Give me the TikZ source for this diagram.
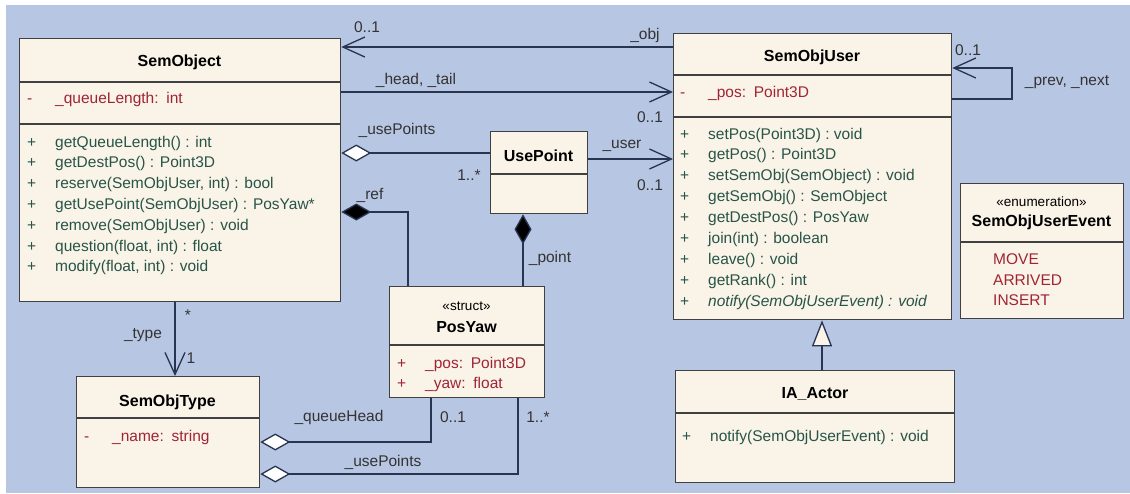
\documentclass[tikz,border=0pt]{standalone}
\usepackage{fontspec}
\setmainfont{Liberation Sans}
\usetikzlibrary{arrows.meta}
\definecolor{bgblue}{RGB}{183,198,226}
\definecolor{boxfill}{RGB}{249,243,232}
\definecolor{attrred}{RGB}{160,36,52}
\definecolor{methgreen}{RGB}{40,84,72}
\definecolor{linknavy}{RGB}{40,52,80}
\newcommand\umlvis[1]{\makebox[28pt][l]{#1}}
\begin{document}
\begin{tikzpicture}[x=1pt,y=-1pt,
  cls/.style={draw=black!75,line width=1.3pt,fill=boxfill,rectangle,inner sep=0pt,anchor=north west},
  sep/.style={black!75,line width=1.1pt},
  title/.style={font=\fontsize{16}{18}\selectfont\bfseries,inner sep=0pt},
  stereo/.style={font=\fontsize{13.5}{15}\selectfont,inner sep=0pt},
  attr/.style={font=\fontsize{15.5}{18}\selectfont,text=attrred,anchor=west,inner sep=0pt},
  meth/.style={font=\fontsize{15.5}{18}\selectfont,text=methgreen,anchor=west,inner sep=0pt},
  lbl/.style={font=\fontsize{15.5}{18}\selectfont,text=black!80,inner sep=0pt},
  link/.style={draw=linknavy,line width=1.3pt},
  nav/.style={link,-{Straight Barb[length=22pt,width=20pt]}},
  agg/.style={link,{Diamond[length=30pt,width=17pt,fill=white]}-},
  comp/.style={link,{Diamond[length=30pt,width=17pt,fill=black]}-},
  inherit/.style={link,-{Triangle[length=26pt,width=20pt,fill=boxfill]}}]
\fill[bgblue] (6,5) rectangle (1130,493);
\useasboundingbox (0,0) rectangle (1130,493);

\node[cls,minimum width=321pt,minimum height=263pt] (semobject) at (19,38) {};
\node[cls,minimum width=278pt,minimum height=286pt] (semobjuser) at (673,33) {};
\node[cls,minimum width=163pt,minimum height=135pt] (semobjuserevent) at (960,183) {};
\node[cls,minimum width=97pt,minimum height=82pt] (usepoint) at (490,131) {};
\node[cls,minimum width=155pt,minimum height=111pt] (posyaw) at (389,286) {};
\node[cls,minimum width=183pt,minimum height=111pt] (semobjtype) at (76,376) {};
\node[cls,minimum width=279pt,minimum height=112pt] (iaactor) at (675,370) {};

\draw[sep] (semobject.west |- 0,82) -- (semobject.east |- 0,82);
\draw[sep] (semobject.west |- 0,124) -- (semobject.east |- 0,124);
\draw[sep] (semobjuser.west |- 0,75) -- (semobjuser.east |- 0,75);
\draw[sep] (semobjuser.west |- 0,117) -- (semobjuser.east |- 0,117);
\draw[sep] (semobjuserevent.west |- 0,242) -- (semobjuserevent.east |- 0,242);
\draw[sep] (usepoint.west |- 0,174) -- (usepoint.east |- 0,174);
\draw[sep] (posyaw.west |- 0,345) -- (posyaw.east |- 0,345);
\draw[sep] (semobjtype.west |- 0,418) -- (semobjtype.east |- 0,418);
\draw[sep] (iaactor.west |- 0,413) -- (iaactor.east |- 0,413);

\node[title] (so-t) at (179.5,62) {SemObject};
\node[attr] (so-a1) at (27,99) {\umlvis{-}\_queueLength:\enspace int};
\node[meth] (so-m1) at (27,143) {\umlvis{+}getQueueLength() : int};
\node[meth] (so-m2) at (27,163.8) {\umlvis{+}getDestPos() : Point3D};
\node[meth] (so-m3) at (27,184.6) {\umlvis{+}reserve(SemObjUser, int) : bool};
\node[meth] (so-m4) at (27,205.4) {\umlvis{+}getUsePoint(SemObjUser) : PosYaw*};
\node[meth] (so-m5) at (27,226.2) {\umlvis{+}remove(SemObjUser) : void};
\node[meth] (so-m6) at (27,247) {\umlvis{+}question(float, int) : float};
\node[meth] (so-m7) at (27,267.8) {\umlvis{+}modify(float, int) : void};

\node[title] (su-t) at (812,57) {SemObjUser};
\node[attr] (su-a1) at (680,93) {\umlvis{-}\_pos:\enspace Point3D};
\node[meth] (su-m1) at (680,135) {\umlvis{+}setPos(Point3D) : void};
\node[meth] (su-m2) at (680,155.9) {\umlvis{+}getPos() : Point3D};
\node[meth] (su-m3) at (680,176.8) {\umlvis{+}setSemObj(SemObject) : void};
\node[meth] (su-m4) at (680,197.7) {\umlvis{+}getSemObj() : SemObject};
\node[meth] (su-m5) at (680,218.6) {\umlvis{+}getDestPos() : PosYaw};
\node[meth] (su-m6) at (680,239.5) {\umlvis{+}join(int) : boolean};
\node[meth] (su-m7) at (680,260.4) {\umlvis{+}leave() : void};
\node[meth] (su-m8) at (680,281.3) {\umlvis{+}getRank() : int};
\node[meth] (su-m9) at (680,302.2) {\umlvis{+}\itshape notify(SemObjUserEvent) : void};

\node[stereo] (se-s) at (1041.5,202) {«enumeration»};
\node[title] (se-t) at (1041.5,222) {SemObjUserEvent};
\node[attr] (se-l1) at (993,259) {MOVE};
\node[attr] (se-l2) at (993,280) {ARRIVED};
\node[attr] (se-l3) at (993,300) {INSERT};

\node[title] (up-t) at (538.5,156) {UsePoint};

\node[stereo] (py-s) at (466.5,306) {«struct»};
\node[title] (py-t) at (466.5,327) {PosYaw};
\node[attr] (py-a1) at (397,364) {\umlvis{+}\_pos:\enspace Point3D};
\node[attr] (py-a2) at (397,384) {\umlvis{+}\_yaw:\enspace float};

\node[title] (st-t) at (167.5,402) {SemObjType};
\node[attr] (st-a1) at (84,437) {\umlvis{-}\_name:\enspace string};

\node[title] (ia-t) at (815,394) {IA\_Actor};
\node[meth] (ia-m1) at (682,437) {\umlvis{+}notify(SemObjUserEvent) : void};

\draw[nav] (semobjuser.west |- 0,47) -- (semobject.east |- 0,47);
\draw[nav] (semobject.east |- 0,92) -- (semobjuser.west |- 0,92);
\draw[agg] (semobject.east |- 0,153) -- (usepoint.west |- 0,153);
\draw[nav] (usepoint.east |- 0,159) -- (semobjuser.west |- 0,159);
\draw[comp] (semobject.east |- 0,212) -| (posyaw.north -| 408,0);
\draw[comp] (usepoint.south -| 523,0) -- (posyaw.north -| 523,0);
\draw[nav] (semobject.south -| 175,0) -- (semobjtype.north -| 175,0);
\draw[agg] (semobjtype.east |- 0,442) -| (posyaw.south -| 431,0);
\draw[agg] (semobjtype.east |- 0,474) -| (posyaw.south -| 518,0);
\draw[inherit] (iaactor.north -| 822,0) -- (semobjuser.south -| 822,0);
\draw[nav] (semobjuser.east |- 0,99) -- (1012,99) -- (1012,68) -- (semobjuser.east |- 0,68);

\node[lbl] (l-obj) at (645,35) {\_obj};
\node[lbl] (l-obj-m) at (367,27) {0..1};
\node[lbl] (l-head) at (416,80) {\_head, \_tail};
\node[lbl] (l-head-m) at (650,117) {0..1};
\node[lbl] (l-usepts) at (397,130) {\_usePoints};
\node[lbl] (l-usepts-m) at (469,175) {1..*};
\node[lbl] (l-user) at (622,146) {\_user};
\node[lbl] (l-user-m) at (650,185) {0..1};
\node[lbl] (l-ref) at (370,195) {\_ref};
\node[lbl] (l-point) at (550,258) {\_point};
\node[lbl] (l-type-s) at (188,315) {*};
\node[lbl] (l-type) at (143,335) {\_type};
\node[lbl] (l-type-m) at (191,358) {1};
\node[lbl] (l-qhead) at (339,417) {\_queueHead};
\node[lbl] (l-qhead-m) at (453,417) {0..1};
\node[lbl] (l-usepts2) at (383,462) {\_usePoints};
\node[lbl] (l-usepts2-m) at (538,417) {1..*};
\node[lbl] (l-self-m) at (968,50) {0..1};
\node[lbl] (l-self) at (1067,82) {\_prev, \_next};
\end{tikzpicture}
\end{document}
